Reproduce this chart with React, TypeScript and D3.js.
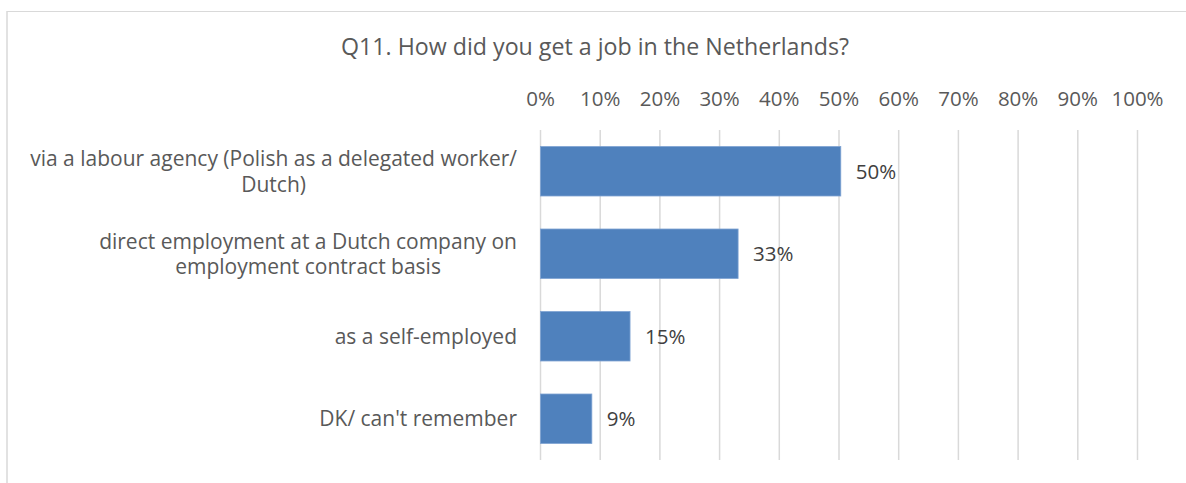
import React, { useEffect, useRef } from "react";
import * as d3 from "d3";

const title = "Q11. How did you get a job in the Netherlands?";
const categories = [
  "via a labour agency (Polish as a delegated worker/ Dutch)",
  "direct employment at a Dutch company on employment contract basis",
  "as a self-employed",
  "DK/ can't remember",
];
const categoryLines = [
  ["via a labour agency (Polish as a delegated worker/", "Dutch)"],
  ["direct employment at a Dutch company on", "employment contract basis"],
  ["as a self-employed"],
  ["DK/ can't remember"],
];
const values = [0.503, 0.331, 0.15, 0.086];
const tickValues = [0, 0.1, 0.2, 0.3, 0.4, 0.5, 0.6, 0.7, 0.8, 0.9, 1];

const W = 1186;
const H = 483;
const FONT = "'Open Sans', sans-serif";
const TEXT = "#595959";
const GRID = "#d9d9d9";
const BAR = "#4f81bd";

export default function App() {
  const ref = useRef<SVGSVGElement>(null);

  useEffect(() => {
    const svg = d3.select(ref.current);
    svg.selectAll("*").remove();

    // chart border (cropped on right/bottom)
    svg.append("line").attr("x1", 7).attr("x2", W).attr("y1", 11.5).attr("y2", 11.5)
      .attr("stroke", GRID).attr("stroke-width", 1.2);
    svg.append("line").attr("x1", 7).attr("x2", 7).attr("y1", 11).attr("y2", H)
      .attr("stroke", GRID).attr("stroke-width", 1.5);

    const x = d3.scaleLinear().domain([0, 1]).range([540.5, 1137.5]);
    const y = d3.scaleBand<string>().domain(categories).range([130, 460])
      .paddingInner(0.4).paddingOuter(0.2);

    // title
    svg.append("text").attr("x", 595).attr("y", 54.5).attr("text-anchor", "middle")
      .attr("font-family", FONT).attr("font-size", 23.2).attr("fill", TEXT).text(title);

    // gridlines
    svg.append("g").selectAll("line").data(tickValues).join("line")
      .attr("x1", (d) => x(d)).attr("x2", (d) => x(d))
      .attr("y1", 130).attr("y2", 460)
      .attr("stroke", GRID).attr("stroke-width", 1.5);

    // tick labels
    svg.append("g").selectAll("text").data(tickValues).join("text")
      .attr("x", (d) => x(d)).attr("y", 106).attr("text-anchor", "middle")
      .attr("font-family", FONT).attr("font-size", 20.5).attr("fill", TEXT)
      .text((d) => d3.format(".0%")(d));

    // bars
    svg.append("g").selectAll("rect").data(values).join("rect")
      .attr("x", x(0)).attr("y", (_, i) => y(categories[i])!)
      .attr("width", (d) => x(d) - x(0)).attr("height", y.bandwidth())
      .attr("fill", BAR).attr("stroke", "#7fa3d3").attr("stroke-width", 0.8);

    // data labels
    svg.append("g").selectAll("text").data(values).join("text")
      .attr("x", (d) => x(d) + 15)
      .attr("y", (_, i) => y(categories[i])! + y.bandwidth() / 2 + 7.5)
      .attr("font-family", FONT).attr("font-size", 20.5).attr("fill", "#404040")
      .text((d) => d3.format(".0%")(d));

    // category labels
    const right = 517;
    const lineH = 25.5;
    categoryLines.forEach((lines, i) => {
      const cy = y(categories[i])! + y.bandwidth() / 2;
      const g = svg.append("g");
      const texts = lines.map((ln, j) =>
        g.append("text")
          .attr("y", cy + 7.5 + (j - (lines.length - 1) / 2) * lineH)
          .attr("font-family", FONT).attr("font-size", 21).attr("fill", TEXT)
          .attr("text-anchor", "middle").text(ln)
      );
      const widths = texts.map((t) => (t.node() as SVGTextElement).getComputedTextLength());
      const maxW = Math.max(...widths);
      texts.forEach((t) => t.attr("x", right - maxW / 2));
    });
  }, []);

  return (
    <svg ref={ref} width={W} height={H}
      style={{ position: "absolute", left: 0, top: 0, display: "block", background: "#fff" }} />
  );
}
